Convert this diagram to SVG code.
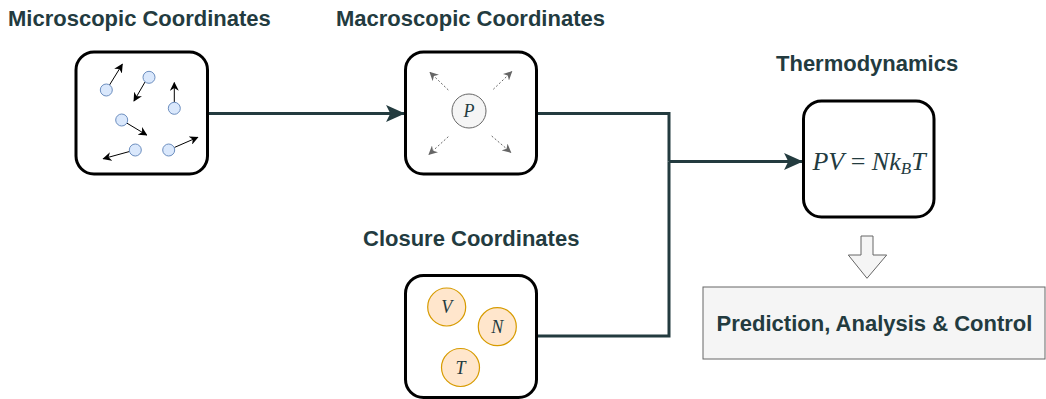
<svg xmlns="http://www.w3.org/2000/svg" width="1046" height="399" viewBox="0 0 1046 399">
  <style>
    .title { font-family: "Liberation Sans", Arial, sans-serif; font-weight: bold; font-size: 22px; fill: #233b3f; }
    .box { fill: #ffffff; stroke: #000000; stroke-width: 3; }
    .particle { fill: #dae8fc; stroke: #6c8ebf; stroke-width: 1; }
    .vel { stroke: #000000; stroke-width: 1; fill: none; marker-end: url(#tipBlack); }
    .force { stroke: #666666; stroke-width: 1; stroke-dasharray: 2 2; fill: none; marker-end: url(#tipGray); }
    .state { fill: #ffe6cc; stroke: #d79b00; stroke-width: 1.2; }
    .sym { font-family: "Liberation Serif", "Times New Roman", serif; font-style: italic; font-size: 18px; fill: #233b3f; text-anchor: middle; }
    .wire { stroke: #233b3f; stroke-width: 3; fill: none; }
    .eq { font-family: "Liberation Serif", "Times New Roman", serif; font-size: 26px; fill: #233b3f; }
  </style>
  <defs>
    <marker id="tipBlack" viewBox="0 0 10 10" refX="9" refY="5" markerWidth="9" markerHeight="9" orient="auto" markerUnits="userSpaceOnUse">
      <path d="M0,0 L10,5 L0,10 L3,5 Z" fill="#000000"/>
    </marker>
    <marker id="tipGray" viewBox="0 0 10 10" refX="9" refY="5" markerWidth="9" markerHeight="9" orient="auto" markerUnits="userSpaceOnUse">
      <path d="M0,0 L10,5 L0,10 L3,5 Z" fill="#666666"/>
    </marker>
    <marker id="tipWire" viewBox="0 0 18 16" refX="17" refY="8" markerWidth="19" markerHeight="17" orient="auto" markerUnits="userSpaceOnUse">
      <path d="M0,0 L18,8 L0,16 L4,8 Z" fill="#233b3f"/>
    </marker>
  </defs>

  <!-- Connectors -->
  <g id="connectors">
    <path class="wire" d="M207.5,113.5 L404,113.5" marker-end="url(#tipWire)"/>
    <path class="wire" d="M536.5,113.5 L669,113.5 L669,161.5"/>
    <path class="wire" d="M536.5,336 L669,336 L669,161.5"/>
    <path class="wire" d="M669,161.5 L802,161.5" marker-end="url(#tipWire)"/>
  </g>

  <!-- Microscopic coordinates -->
  <g id="microscopic">
    <text class="title" x="8" y="26">Microscopic Coordinates</text>
    <rect class="box" x="76" y="52" width="131.5" height="122" rx="18"/>
    <line class="vel" x1="109.5" y1="85" x2="122.3" y2="64.3"/>
    <circle class="particle" cx="106.3" cy="90" r="6"/>
    <line class="vel" x1="145" y1="82" x2="134" y2="101"/>
    <circle class="particle" cx="149" cy="77.3" r="6"/>
    <line class="vel" x1="174.3" y1="102.3" x2="174.3" y2="82.7"/>
    <circle class="particle" cx="174.3" cy="108.3" r="6"/>
    <line class="vel" x1="126.7" y1="123" x2="146.7" y2="135"/>
    <circle class="particle" cx="121.7" cy="120" r="6"/>
    <line class="vel" x1="129.5" y1="151.5" x2="103.3" y2="158.7"/>
    <circle class="particle" cx="135.3" cy="150" r="6"/>
    <line class="vel" x1="174.3" y1="147.5" x2="197.7" y2="137.3"/>
    <circle class="particle" cx="168.7" cy="150" r="6"/>
  </g>

  <!-- Macroscopic coordinates -->
  <g id="macroscopic">
    <text class="title" x="336" y="26">Macroscopic Coordinates</text>
    <rect class="box" x="405.5" y="52" width="131" height="122" rx="18"/>
    <line class="force" x1="448.3" y1="90" x2="430" y2="72.3"/>
    <line class="force" x1="493.3" y1="89.3" x2="511.7" y2="71.7"/>
    <line class="force" x1="448.3" y1="136.7" x2="429" y2="154.3"/>
    <line class="force" x1="491.7" y1="136" x2="510.7" y2="152.3"/>
    <circle cx="469" cy="111" r="17" fill="#f5f5f5" stroke="#666666" stroke-width="1"/>
    <text class="sym" x="469" y="117">P</text>
  </g>

  <!-- Closure coordinates -->
  <g id="closure">
    <text class="title" x="363" y="246">Closure Coordinates</text>
    <rect class="box" x="405.5" y="275.5" width="131" height="122" rx="18"/>
    <circle class="state" cx="446.7" cy="307" r="19"/>
    <text class="sym" x="446.7" y="313">V</text>
    <circle class="state" cx="497.3" cy="326.7" r="19"/>
    <text class="sym" x="497.3" y="332.7">N</text>
    <circle class="state" cx="460.5" cy="367.5" r="19"/>
    <text class="sym" x="460.5" y="373.5">T</text>
  </g>

  <!-- Thermodynamics -->
  <g id="thermodynamics">
    <text class="title" x="776" y="71">Thermodynamics</text>
    <rect class="box" x="803.5" y="101" width="130.5" height="116" rx="18"/>
    <text class="eq" x="869" y="170" text-anchor="middle"><tspan font-style="italic">PV</tspan> = <tspan font-style="italic">Nk</tspan><tspan font-style="italic" font-size="17" dy="4">B</tspan><tspan font-style="italic" dy="-4">T</tspan></text>
  </g>

  <!-- Outcome -->
  <g id="outcome">
    <path d="M861,236 L873,236 L873,255 L886.7,255 L867,278.3 L848.3,255 L861,255 Z" fill="#f5f5f5" stroke="#666666" stroke-width="1"/>
    <rect x="703" y="287" width="342" height="72" fill="#f5f5f5" stroke="#666666" stroke-width="1"/>
    <text class="title" x="874.5" y="331" text-anchor="middle">Prediction, Analysis &amp; Control</text>
  </g>
</svg>
